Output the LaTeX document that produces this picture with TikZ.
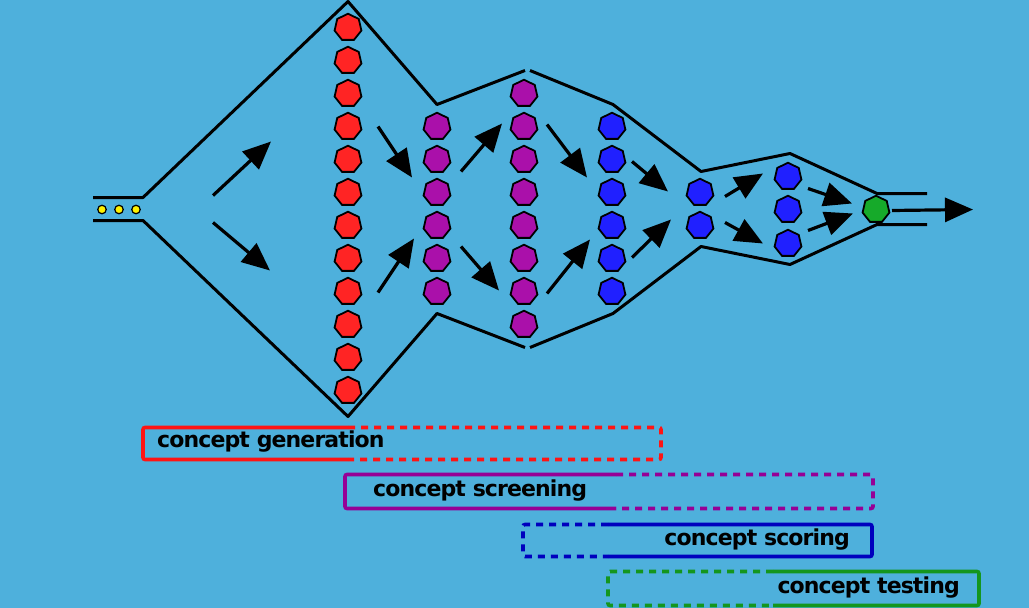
\documentclass[tikz,border=0pt]{standalone}
\usepackage{fontspec}
\setmainfont{DejaVu Sans}
\newfontfamily\labelfont[LetterSpace=-4]{DejaVu Sans}
\usetikzlibrary{arrows.meta,shapes.geometric}
\definecolor{sky}{RGB}{78,176,220}
\definecolor{gendot}{RGB}{255,36,36}
\definecolor{screendot}{RGB}{170,16,170}
\definecolor{scoredot}{RGB}{32,32,255}
\definecolor{testdot}{RGB}{22,170,42}
\definecolor{genline}{RGB}{255,20,20}
\definecolor{screenline}{RGB}{150,0,150}
\definecolor{scoreline}{RGB}{0,0,190}
\definecolor{testline}{RGB}{20,150,30}

\begin{document}
\begin{tikzpicture}[x=1pt,y=-1pt,
        dot/.style={regular polygon,regular polygon sides=7,draw=black,line width=1.8pt,inner sep=0pt,minimum size=27.5pt},
        seed/.style={circle,draw=black,line width=1.2pt,fill=yellow,inner sep=0pt,minimum size=8.5pt},
        wall/.style={line width=3pt,line join=round},
        flow/.style={line width=3.2pt,-{Triangle[length=28pt,width=24pt]}},
        phase/.style={line width=3.6pt,rounded corners=2pt},
        later/.style={phase,dash pattern=on 7pt off 6pt},
        tag/.style={font=\labelfont\bfseries\fontsize{22}{24}\selectfont,inner sep=0pt}]
    \fill[sky] (0,0) rectangle (1029,607);
    % funnel
    \draw[wall] (93,197) -- (143,197) -- (348,1) -- (437,104) -- (525,70);
    \draw[wall] (530,70) -- (613,104) -- (701,171) -- (790,153) -- (877,193) -- (927,193);
    \draw[wall] (93,220) -- (143,220) -- (348,416) -- (437,313) -- (525,347);
    \draw[wall] (530,347) -- (613,313) -- (701,246) -- (790,264) -- (877,224) -- (927,224);
    % ideas
    \foreach \x [count=\i] in {102,119,136}
        \node[seed] (y\i) at (\x,209) {};
    \foreach \y [count=\i] in {27,60,93,126,159,192,225,258,291,324,357,390}
        \node[dot,fill=gendot] (r\i) at (348,\y) {};
    \foreach \y [count=\i] in {126,159,192,225,258,291}
        \node[dot,fill=screendot] (p\i) at (437,\y) {};
    \foreach \y [count=\i] in {93,126,159,192,225,258,291,324}
        \node[dot,fill=screendot] (q\i) at (524,\y) {};
    \foreach \y [count=\i] in {126,159,192,225,258,291}
        \node[dot,fill=scoredot] (b\i) at (612,\y) {};
    \foreach \y [count=\i] in {192,225}
        \node[dot,fill=scoredot] (c\i) at (700,\y) {};
    \foreach \y [count=\i] in {176,209,243}
        \node[dot,fill=scoredot] (d\i) at (788,\y) {};
    \node[dot,fill=testdot] (g1) at (876,209) {};
    % arrows
    \foreach \n/\p/\q in {1/{213,195}/{271,141},2/{213,222}/{270,270},3/{378,126}/{412,177},
            4/{378,292}/{414,238},5/{461,171}/{502,123},6/{461,246}/{499,290},
            7/{547,124}/{587,177},8/{547,293}/{590,239},9/{632,161}/{668,191},
            10/{632,257}/{671,219},11/{725,196}/{763,173},12/{725,222}/{763,243},
            13/{808,188}/{852,203},14/{808,230}/{853,213},15/{892,210}/{973,209}}
        {\coordinate (s\n) at (\p); \coordinate (e\n) at (\q);}
    \foreach \n in {1,...,15}
        \draw[flow] (s\n) -- (e\n);
    % phases
    \draw[phase,genline] (348,427) -- (143,427) -- (143,459) -- (348,459);
    \draw[later,genline] (348,427) -- (661,427) -- (661,459) -- (348,459);
    \draw[phase,screenline] (616,474) -- (345,474) -- (345,508) -- (616,508);
    \draw[later,screenline] (616,474) -- (873,474) -- (873,508) -- (616,508);
    \draw[later,scoreline] (608,524) -- (523,524) -- (523,556) -- (608,556);
    \draw[phase,scoreline] (608,524) -- (872,524) -- (872,556) -- (608,556);
    \draw[later,testline] (773,571) -- (608,571) -- (608,605) -- (773,605);
    \draw[phase,testline] (773,571) -- (979,571) -- (979,605) -- (773,605);
    \node[tag,anchor=west] (gen) at (157,441) {concept generation};
    \node[tag,anchor=west] (screen) at (373,490) {concept screening};
    \node[tag,anchor=east] (score) at (850,539) {concept scoring};
    \node[tag,anchor=east] (test) at (960,587) {concept testing};
\end{tikzpicture}
\end{document}
